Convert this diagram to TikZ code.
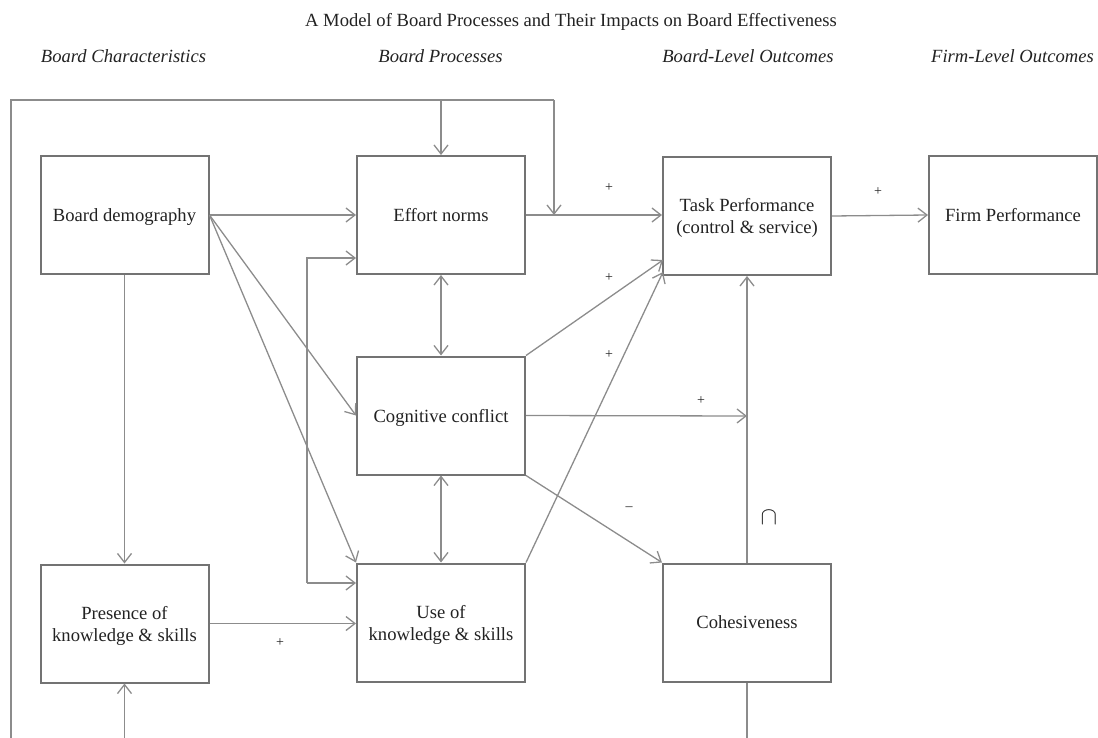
\documentclass[tikz,border=0pt]{standalone}
\usepackage{fontspec}
\setmainfont{Liberation Serif}
\usetikzlibrary{arrows.meta,calc}
\definecolor{boxgray}{HTML}{737373}
\definecolor{arrgray}{HTML}{8C8C8C}
\definecolor{txt}{HTML}{222222}
\begin{document}
\begin{tikzpicture}[x=1pt,y=-1pt,
  font=\fontsize{18.6}{22}\selectfont,
  every node/.style={text=txt},
  boxnode/.style={draw=boxgray,line width=2pt,minimum width=168pt,minimum height=118pt,align=center,inner sep=0pt,text depth=0pt},
  arr/.style={draw=arrgray,line width=1.3pt,-{Straight Barb[length=9pt,width=14pt,line width=1.3pt]}},
  darr/.style={draw=arrgray,line width=1.3pt,{Straight Barb[length=9pt,width=14pt,line width=1.3pt]}-{Straight Barb[length=9pt,width=14pt,line width=1.3pt]}},
  ln/.style={draw=arrgray,line width=1.3pt},
  hdr/.style={anchor=base,font=\fontsize{18.6}{22}\selectfont\itshape},
  sgn/.style={font=\fontsize{14}{16}\selectfont}]
\useasboundingbox (0,0) rectangle (1098,738);
% title and headers
\node[anchor=base] (title) at (571,27) {A Model of Board Processes and Their Impacts on Board Effectiveness};
\node[hdr] (h1) at (123.5,63) {Board Characteristics};
\node[hdr] (h2) at (440.5,63) {Board Processes};
\node[hdr] (h3) at (748,63) {Board-Level Outcomes};
\node[hdr] (h4) at (1012.5,63) {Firm-Level Outcomes};
% boxes
\node[boxnode] (bd) at (124.5,215) {Board demography};
\node[boxnode] (en) at (441,215) {Effort norms};
\node[boxnode] (tp) at (747,216) {Task Performance\\(control \& service)};
\node[boxnode] (fp) at (1013,215) {Firm Performance};
\node[boxnode] (cc) at (441,415.5) {Cognitive conflict};
\node[boxnode] (uk) at (441,622.5) {Use of\\knowledge \& skills};
\node[boxnode] (pk) at (124.5,623.5) {Presence of\\knowledge \& skills};
\node[boxnode] (ch) at (747,622.5) {Cohesiveness};
% coordinates
\coordinate (l0) at (11,738);
\coordinate (l1) at (11,100);
\coordinate (l2) at (554,100);
\coordinate (l3) at (554,215);
\coordinate (lb) at (441,100);
\coordinate (br1) at (307,258);
\coordinate (br2) at (307,583);
\coordinate (pkb) at (124.5,738);
\coordinate (chb) at (747,738);
\coordinate (cj) at (747,416);
\coordinate (tpa) at (663,260);
\coordinate (tpb) at (663,272);
% loop
\draw[ln] (l0) -- (l1) -- (l2);
\draw[arr] (l2) -- (l3);
\draw[arr] (lb) -- (en.north);
\draw[arr] (pkb) -- (pk.south);
\draw[ln] (ch.south) -- (chb);
% connectors
\draw[arr] (bd.east) -- (en.west);
\draw[arr] (bd.east) -- (cc.west);
\draw[arr] (bd.east) -- (uk.north west);
\draw[arr] (bd.south) -- (pk.north);
\draw[arr] (br2) -- (br2 -| uk.west);
\draw[arr] (br2) -- (br1) -- (br1 -| en.west);
\draw[darr] (en.south) -- (cc.north);
\draw[darr] (cc.south) -- (uk.north);
\draw[arr] (pk.east) -- (pk.east -| uk.west);
\draw[arr] (en.east) -- (en.east -| tp.west);
\draw[arr] (cc.north east) -- (tpa);
\draw[arr] (uk.north east) -- (tpb);
\draw[arr] (cc.east) -- (cj);
\draw[arr] (ch.north) -- (tp.south);
\draw[arr] (cc.south east) -- (ch.north west);
\draw[arr] (tp.east) -- (fp.west);
% signs
\node[sgn] (s1) at (609,188) {+};
\node[sgn] (s2) at (609,278) {+};
\node[sgn] (s3) at (609,355) {+};
\node[sgn] (s4) at (701,401) {+};
\node[sgn] (s5) at (280,643) {+};
\node[sgn] (s6) at (878,192) {+};
\node[sgn] (s7) at (629,509) {–};
\node[font=\fontsize{24}{26}\selectfont] (s8) at (769,518) {$\cap$};
\end{tikzpicture}
\end{document}
